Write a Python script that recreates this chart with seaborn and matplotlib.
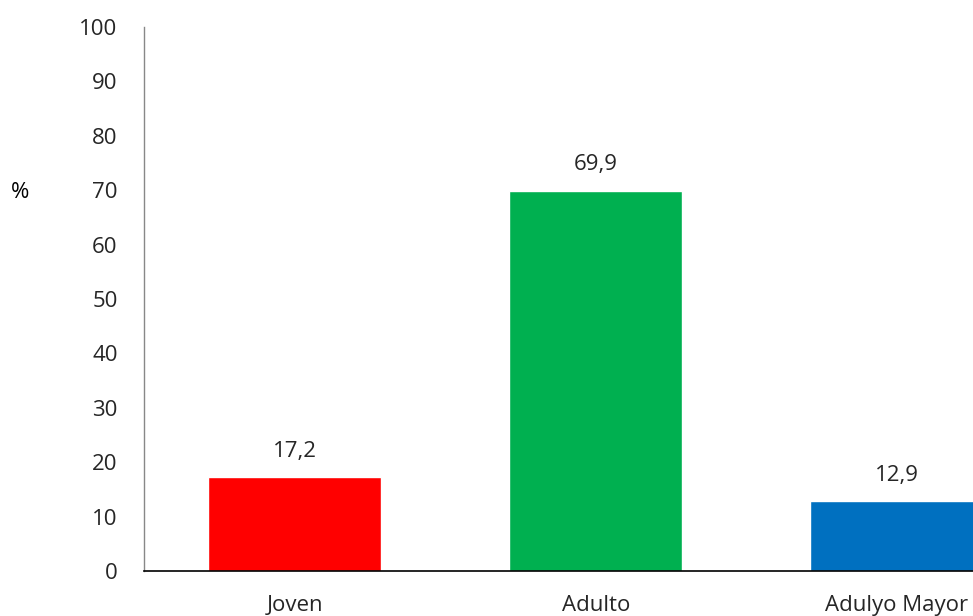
import matplotlib
matplotlib.use("Agg")
import matplotlib.pyplot as plt
import seaborn as sns
import pandas as pd

categories = ["Joven", "Adulto", "Adulyo Mayor"]
values = [17.2, 69.9, 12.9]
value_labels = ["17,2", "69,9", "12,9"]
colors = ["#FF0000", "#00B050", "#0070C0"]
yticks = list(range(0, 101, 10))

sns.set_theme(style="white")
plt.rcParams['font.family'] = ['Open Sans', 'DejaVu Sans']

W, H = 973, 616
fig = plt.figure(figsize=(W / 100, H / 100), dpi=100)
ax = fig.add_axes([144 / W, (H - 571) / H, (W - 144) / W, (571 - 27) / H])

df = pd.DataFrame({"cat": categories, "val": values})
sns.barplot(data=df, x="cat", y="val", hue="cat", palette=colors, legend=False,
            width=0.575, saturation=1, ax=ax)

ax.set_ylim(0, 100)
ax.set_xlim(-0.5, 2.253)
ax.set_yticks(yticks)
ax.set_yticklabels([str(t) for t in yticks])
ax.tick_params(axis="both", length=0, labelsize=16, labelcolor="#262626")
ax.tick_params(axis="x", pad=17)
ax.tick_params(axis="y", pad=19)
ax.set_xlabel("")
ax.set_ylabel("")

for s in ["top", "right"]:
    ax.spines[s].set_visible(False)
ax.spines["left"].set_color("#888888")
ax.spines["left"].set_linewidth(1.0)
ax.spines["bottom"].set_color("#000000")
ax.spines["bottom"].set_linewidth(1.2)

for i, (v, lab) in enumerate(zip(values, value_labels)):
    ax.annotate(lab, (i, v), xytext=(0, 11), textcoords="offset points",
                ha="center", va="bottom", fontsize=16, color="#262626")

fig.text(20 / W, 1 - 193 / H, "%", ha="center", va="center", fontsize=16, color="#000000")

fig.savefig("out.png", dpi=100)
